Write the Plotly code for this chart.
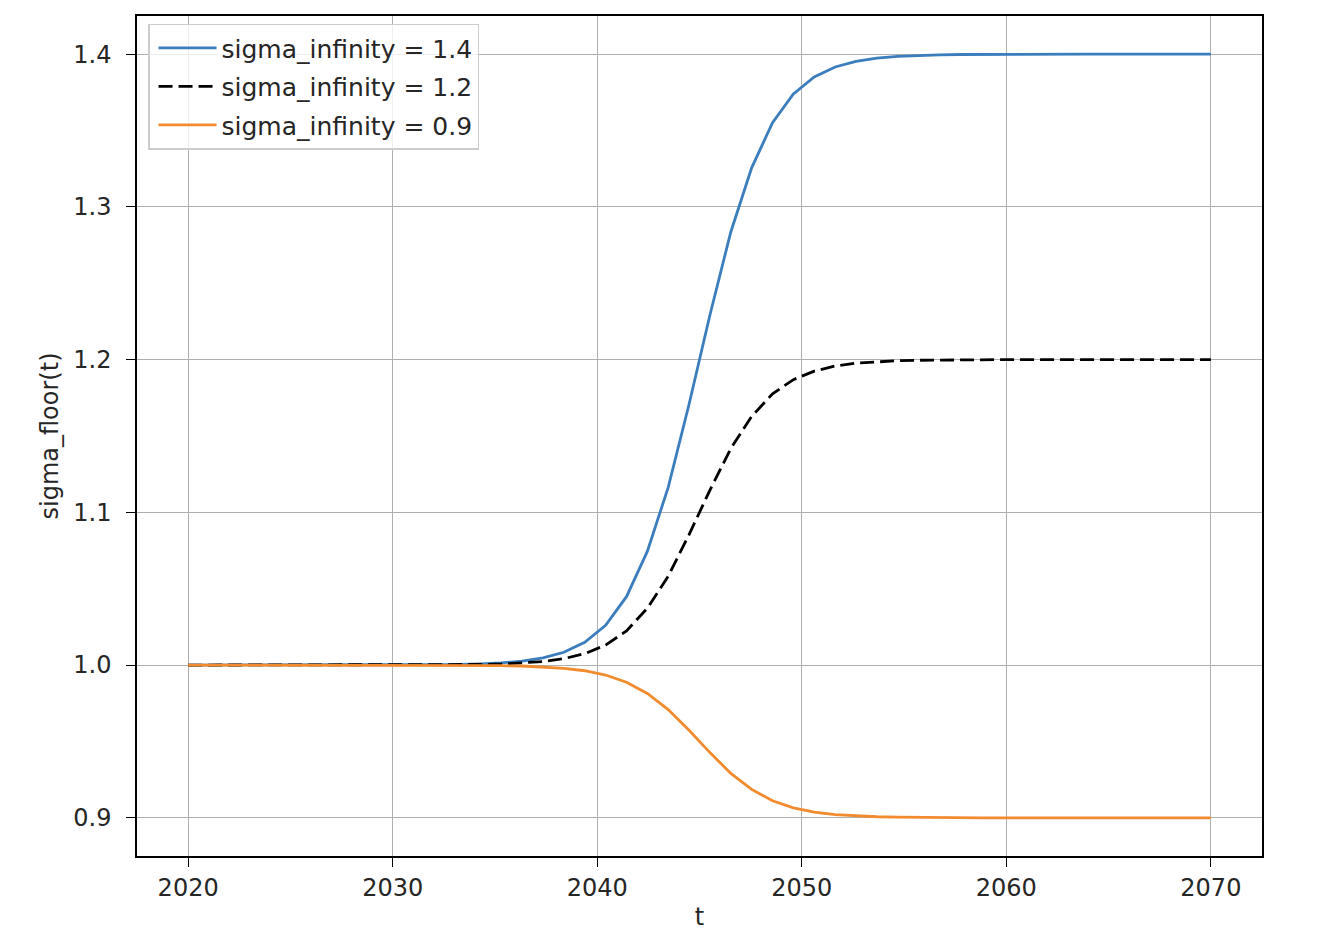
import plotly.graph_objects as go

t = [2020.00, 2021.02, 2022.04, 2023.06, 2024.08, 2025.10, 2026.12, 2027.14, 2028.16, 2029.18,
     2030.20, 2031.22, 2032.24, 2033.27, 2034.29, 2035.31, 2036.33, 2037.35, 2038.37, 2039.39,
     2040.41, 2041.43, 2042.45, 2043.47, 2044.49, 2045.51, 2046.53, 2047.55, 2048.57, 2049.59,
     2050.61, 2051.63, 2052.65, 2053.67, 2054.69, 2055.71, 2056.73, 2057.76, 2058.78, 2059.80,
     2060.82, 2061.84, 2062.86, 2063.88, 2064.90, 2065.92, 2066.94, 2067.96, 2068.98, 2070.00]

sigma_14 = [1.0000, 1.0000, 1.0000, 1.0000, 1.0000, 1.0000, 1.0000, 1.0000, 1.0000, 1.0000,
            1.0001, 1.0001, 1.0002, 1.0004, 1.0008, 1.0014, 1.0026, 1.0047, 1.0084, 1.0149,
            1.0261, 1.0448, 1.0744, 1.1164, 1.1708, 1.2292, 1.2836, 1.3256, 1.3552, 1.3739,
            1.3851, 1.3916, 1.3953, 1.3974, 1.3986, 1.3992, 1.3996, 1.3998, 1.3999, 1.3999,
            1.4000, 1.4000, 1.4000, 1.4000, 1.4000, 1.4000, 1.4000, 1.4000, 1.4000, 1.4000]

sigma_12 = [1.0000, 1.0000, 1.0000, 1.0000, 1.0000, 1.0000, 1.0000, 1.0000, 1.0000, 1.0000,
            1.0000, 1.0001, 1.0001, 1.0002, 1.0004, 1.0007, 1.0013, 1.0023, 1.0042, 1.0075,
            1.0131, 1.0224, 1.0372, 1.0582, 1.0854, 1.1146, 1.1418, 1.1628, 1.1776, 1.1869,
            1.1925, 1.1958, 1.1977, 1.1987, 1.1993, 1.1996, 1.1998, 1.1999, 1.1999, 1.2000,
            1.2000, 1.2000, 1.2000, 1.2000, 1.2000, 1.2000, 1.2000, 1.2000, 1.2000, 1.2000]

sigma_09 = [1.0000, 1.0000, 1.0000, 1.0000, 1.0000, 1.0000, 1.0000, 1.0000, 1.0000, 1.0000,
            1.0000, 1.0000, 0.9999, 0.9999, 0.9998, 0.9996, 0.9994, 0.9988, 0.9979, 0.9963,
            0.9935, 0.9888, 0.9814, 0.9709, 0.9573, 0.9427, 0.9291, 0.9186, 0.9112, 0.9065,
            0.9037, 0.9021, 0.9012, 0.9007, 0.9004, 0.9002, 0.9001, 0.9001, 0.9000, 0.9000,
            0.9000, 0.9000, 0.9000, 0.9000, 0.9000, 0.9000, 0.9000, 0.9000, 0.9000, 0.9000]

labels = ["sigma_infinity = 1.4", "sigma_infinity = 1.2", "sigma_infinity = 0.9"]
x_ticks = [2020, 2030, 2040, 2050, 2060, 2070]
y_ticks = [0.9, 1.0, 1.1, 1.2, 1.3, 1.4]
y_ticktext = ["0.9", "1.0", "1.1", "1.2", "1.3", "1.4"]

FONT = "DejaVu Sans"
TXT = "#262626"
FS = 24

fig = go.Figure()
fig.add_trace(go.Scatter(x=t, y=sigma_14, mode="lines", name=labels[0], legendgroup="a",
                         line=dict(color="#3b7dbd", width=2.8)))
fig.add_trace(go.Scatter(x=t, y=sigma_12, mode="lines", name=labels[1], legendgroup="b",
                         line=dict(color="#000000", width=2.8, dash="14px,6px")))
fig.add_trace(go.Scatter(x=t, y=sigma_09, mode="lines", name=labels[2], legendgroup="c",
                         line=dict(color="#f28b30", width=2.8)))

axis_common = dict(
    showline=True, linecolor="#000000", linewidth=1.5, mirror=True,
    showgrid=True, gridcolor="#b0b0b0", gridwidth=1.4,
    ticks="outside", ticklen=9, tickwidth=1.4, tickcolor="#000000",
    tickfont=dict(family=FONT, size=FS, color=TXT),
    zeroline=False,
)

fig.update_layout(
    width=1340, height=948,
    paper_bgcolor="white", plot_bgcolor="white",
    margin=dict(l=129, r=86, t=6, b=100),
    font=dict(family=FONT, size=FS, color=TXT),
    xaxis=dict(range=[2017.5, 2072.5], tickvals=x_ticks, ticklabelstandoff=0,
               title=dict(text="t", font=dict(family=FONT, size=FS, color=TXT), standoff=8),
               **axis_common),
    yaxis=dict(range=[0.875, 1.425], tickvals=y_ticks, ticktext=y_ticktext, ticklabelstandoff=10,
               title=dict(text="sigma_floor(t)", font=dict(family=FONT, size=FS, color=TXT), standoff=8),
               **axis_common),
    legend=dict(x=0.0098, y=0.991, xanchor="left", yanchor="top",
                bgcolor="rgba(255,255,255,0.8)", bordercolor="#cccccc", borderwidth=1.5,
                font=dict(family=FONT, size=FS + 1, color=TXT),
                tracegroupgap=3, itemwidth=58, indentation=4),
    showlegend=True,
)

fig.write_html("out.html")
